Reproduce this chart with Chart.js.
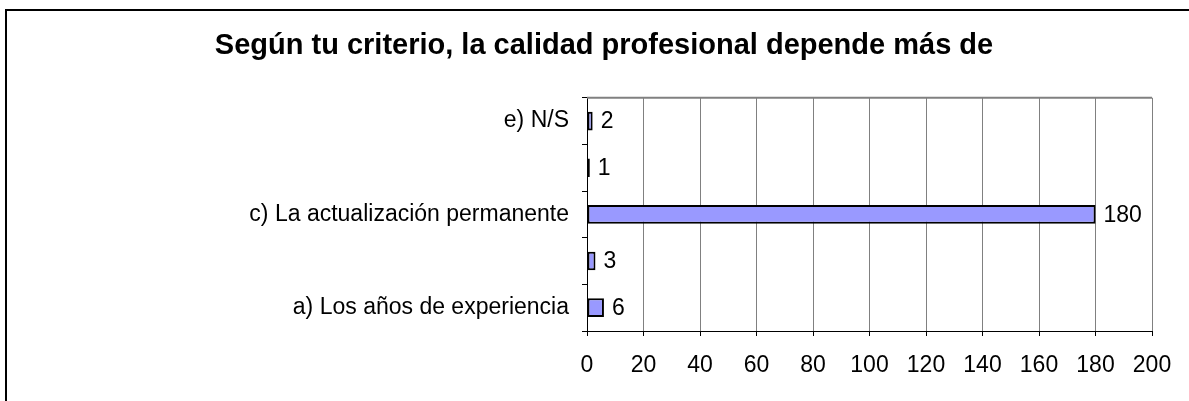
<!DOCTYPE html>
<html>
<head>
<meta charset="utf-8">
<script src="https://cdn.jsdelivr.net/npm/chart.js@4"></script>
<style>
  html, body { margin: 0; padding: 0; background: #fff; }
  #wrap { width: 1189px; height: 401px; position: relative; }
</style>
</head>
<body>
<div id="wrap"><canvas id="chart" width="1189" height="401"></canvas></div>
<script>
// data (top row first)
const categories = ['e) N/S', '', 'c) La actualización permanente', '', 'a) Los años de experiencia'];
const answers = [2, 1, 180, 3, 6];
const xTicks = [0, 20, 40, 60, 80, 100, 120, 140, 160, 180, 200];
const chartTitle = 'Según tu criterio, la calidad profesional depende más de';

const FONT = 'Arial, "Liberation Sans", sans-serif';

// outer frame (top + left line) and grey top edge of the plot area
const framePlugin = {
    id: 'frame',
    beforeDraw(chart) {
        const ctx = chart.ctx;
        ctx.save();
        ctx.strokeStyle = '#000';
        ctx.lineWidth = 2;
        ctx.beginPath();
        ctx.moveTo(6, 401);
        ctx.lineTo(6, 10);
        ctx.lineTo(1189, 10);
        ctx.stroke();
        ctx.restore();
    },
    beforeDatasetsDraw(chart) {
        const a = chart.chartArea;
        const ctx = chart.ctx;
        ctx.save();
        ctx.strokeStyle = '#808080';
        ctx.lineWidth = 2;
        ctx.beginPath();
        ctx.moveTo(a.left, a.top);
        ctx.lineTo(a.right, a.top);
        ctx.stroke();
        ctx.restore();
    }
};

// value labels at the end of each bar
const valueLabels = {
    id: 'valueLabels',
    afterDatasetsDraw(chart) {
        const ctx = chart.ctx;
        const meta = chart.getDatasetMeta(0);
        ctx.save();
        ctx.font = '23px ' + FONT;
        ctx.fillStyle = '#000';
        ctx.textAlign = 'left';
        ctx.textBaseline = 'middle';
        meta.data.forEach((bar, i) => {
            ctx.fillText(String(answers[i]), bar.x + 8, bar.y + 1);
        });
        ctx.restore();
    }
};

new Chart(document.getElementById('chart'), {
    type: 'bar',
    data: {
        labels: categories,
        datasets: [{
            data: answers,
            backgroundColor: '#9999FF',
            borderColor: '#000',
            borderWidth: 2,
            borderSkipped: false,
            barPercentage: 0.4,
            categoryPercentage: 1
        }]
    },
    options: {
        indexAxis: 'y',
        responsive: false,
        animation: false,
        layout: { padding: { left: 56, right: 37, top: 0, bottom: 0 } },
        plugins: {
            legend: { display: false },
            tooltip: { enabled: false },
            title: {
                display: true,
                text: chartTitle,
                color: '#000',
                font: { family: FONT, size: 29, weight: 'bold', lineHeight: 1.2 },
                padding: { top: 29, bottom: 34 }
            }
        },
        scales: {
            x: {
                min: 0,
                max: 200,
                afterBuildTicks(scale) {
                    scale.ticks = xTicks.map(v => ({ value: v }));
                },
                afterFit(scale) { scale.height = 70; },
                grid: { color: '#808080', lineWidth: 1, tickColor: '#000', tickLength: 5 },
                border: { color: '#000', width: 1 },
                ticks: { color: '#000', font: { family: FONT, size: 23 }, padding: 16, maxRotation: 0 }
            },
            y: {
                afterFit(scale) { scale.width = 531; },
                grid: { drawOnChartArea: false, tickColor: '#000', tickLength: 5, offset: true },
                border: { color: '#000', width: 1 },
                ticks: { color: '#000', font: { family: FONT, size: 23 }, padding: 13, autoSkip: false }
            }
        }
    },
    plugins: [framePlugin, valueLabels]
});
</script>
</body>
</html>
